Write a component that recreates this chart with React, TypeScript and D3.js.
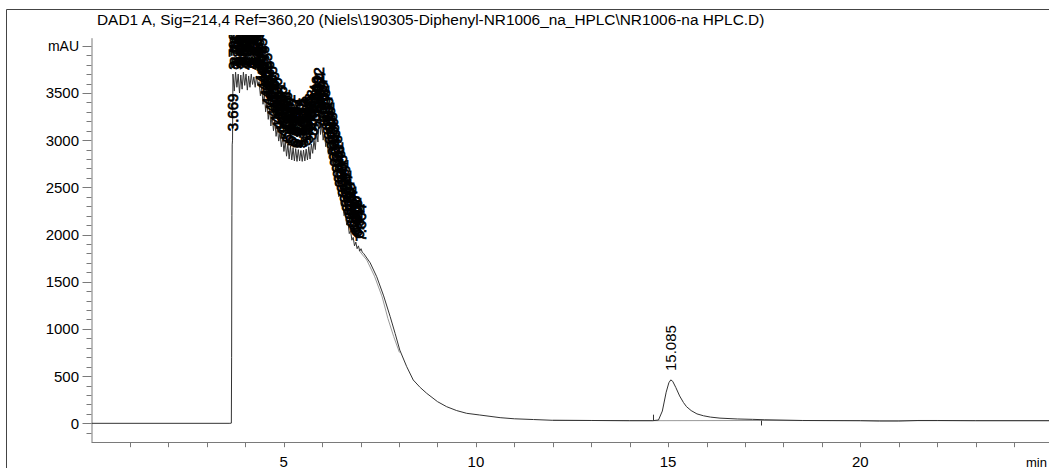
import React from "react";
import * as d3 from "d3";

const TITLE = "DAD1 A, Sig=214,4 Ref=360,20 (Niels\\190305-Diphenyl-NR1006_na_HPLC\\NR1006-na HPLC.D)";

const yMajorTicks = [0, 500, 1000, 1500, 2000, 2500, 3000, 3500];
const xMajorTicks = [5, 10, 15, 20];

// leading part of the trace (min, mAU)
const headTimes = [0, 3.6, 3.638, 3.645, 3.652, 3.66, 3.669];
const headValues = [0, 0, 2, 700, 2200, 2950, 3000];

// saturated / noisy part sampled every noiseStep min from noiseStart
const noiseStart = 3.68;
const noiseStep = 0.034;
const noiseValues = [
  3700, 3520, 3720, 3560, 3700, 3500, 3690, 3540, 3720, 3580,
  3700, 3530, 3680, 3560, 3700, 3590, 3670, 3560, 3680, 3580,
  3620, 3470, 3560, 3380, 3500, 3300, 3420, 3220, 3340, 3150,
  3260, 3100, 3210, 3040, 3140, 2990, 3080, 2930, 3030, 2880,
  2990, 2830, 2960, 2800, 2940, 2790, 2920, 2780, 2910, 2775,
  2900, 2780, 2890, 2775, 2895, 2780, 2905, 2790, 2930, 2800,
  2960, 2860, 3000, 2900, 3100, 2980, 3270, 3060, 3170, 3000,
  3080, 2930, 3010, 2850, 2910, 2750, 2800, 2650, 2680, 2520,
  2560, 2400, 2430, 2300, 2340, 2200, 2240, 2100, 2130, 2010,
  2040, 1940, 1970, 1880, 1920, 1850, 1880, 1825, 1850, 1810,
];

// tail of the trace
const tailTimes = [7.08, 7.25, 7.42, 7.6, 7.77, 7.9, 8.02, 8.2, 8.37, 8.55, 8.72, 9.0, 9.24, 9.5, 9.76, 10.1, 10.63, 11.0, 11.5, 12.0, 13.0, 14.0, 14.6, 14.75, 14.85, 14.95, 15.02, 15.07, 15.12, 15.2, 15.3, 15.4, 15.48, 15.6, 15.75, 15.92, 16.1, 16.35, 16.8, 17.2, 17.5, 18.5, 20.0, 20.5, 21.0, 21.5, 22.0, 23.0, 25.0];
const tailValues = [1800, 1700, 1553, 1350, 1130, 950, 776, 600, 459, 380, 318, 230, 176, 135, 106, 88, 60, 48, 40, 32, 30, 28, 28, 35, 130, 330, 430, 460, 445, 380, 290, 220, 176, 135, 100, 80, 66, 55, 46, 42, 38, 30, 28, 24, 24, 30, 30, 28, 28];

// integration baselines (grey)
const base1Times = [7.0, 7.2, 7.4, 7.6, 7.75, 7.9, 8.05];
const base1Values = [1830, 1730, 1560, 1340, 1110, 920, 750];
const base2Times = [12.0, 13.0, 14.0, 14.62, 17.43, 20.0, 25.0];
const base2Values = [32, 30, 28, 28, 30, 28, 28];

// peak labels: retention time and apex height
const peakTimes = [
  3.669, 3.7, 3.731, 3.76, 3.793, 3.822, 3.856, 3.887, 3.918, 3.95, 3.983, 4.014, 4.046, 4.079,
  4.11, 4.143, 4.176, 4.207, 4.24, 4.272, 4.305, 4.338, 4.369, 4.402, 4.435, 4.467, 4.499, 4.532,
  4.565, 4.597, 4.63, 4.662, 4.695, 4.728, 4.76, 4.793, 4.826, 4.858, 4.891, 4.923, 4.956, 4.989,
  5.021, 5.054, 5.086, 5.119, 5.152, 5.184, 5.217, 5.249, 5.282, 5.315, 5.347, 5.38, 5.412, 5.445,
  5.478, 5.51, 5.543, 5.575, 5.608, 5.641, 5.673, 5.706, 5.738, 5.771, 5.804, 5.836, 5.869, 5.901,
  5.922, 5.954, 5.987, 6.019, 6.052, 6.085, 6.117, 6.15, 6.182, 6.215, 6.248, 6.28, 6.313, 6.345,
  6.378, 6.411, 6.443, 6.476, 6.508, 6.541, 6.589, 6.621, 6.654, 6.687, 6.719, 6.752, 6.784, 6.817,
  6.85, 6.882, 6.915, 6.947, 7.004, 15.085,
];
const peakHeights = [
  3000, 3650, 3700, 3660, 3700, 3650, 3700, 3670, 3700, 3660, 3700, 3650, 3700, 3670,
  3700, 3660, 3700, 3650, 3690, 3660, 3680, 3640, 3670, 3510, 3590, 3430, 3510, 3350,
  3430, 3270, 3350, 3200, 3290, 3140, 3230, 3080, 3170, 3020, 3120, 2980, 3080, 2940,
  3045, 2910, 3015, 2880, 2990, 2860, 2970, 2840, 2955, 2830, 2945, 2820, 2940, 2820,
  2945, 2830, 2955, 2845, 2975, 2870, 3005, 2900, 3045, 2950, 3100, 3020, 3190, 3200,
  3280, 3230, 3180, 3130, 3090, 3050, 3010, 2960, 2910, 2860, 2800, 2740, 2680, 2620,
  2560, 2500, 2450, 2400, 2350, 2300, 2240, 2190, 2140, 2100, 2060, 2020, 1980, 1950,
  1920, 1900, 1880, 1860, 1830, 459,
];

const W = 1049;
const H = 468;
const FONT = "'Liberation Sans', Arial, sans-serif";

export default function App() {
  const x = d3.scaleLinear().domain([0, 25]).range([91.5, 91.5 + 25 * 38.44]);
  const y = d3.scaleLinear().domain([-200, 4080]).range([442.2, 38.2]);

  const pts: [number, number][] = [];
  headTimes.forEach((t, i) => pts.push([t, headValues[i]]));
  noiseValues.forEach((v, i) => pts.push([noiseStart + i * noiseStep, v]));
  tailTimes.forEach((t, i) => pts.push([t, tailValues[i]]));

  const line = d3
    .line<[number, number]>()
    .x((d) => x(d[0]))
    .y((d) => y(d[1]));

  const b1 = base1Times.map((t, i) => [t, base1Values[i]] as [number, number]);
  const b2 = base2Times.map((t, i) => [t, base2Values[i]] as [number, number]);

  const minorY = d3.range(-100, 4001, 100).filter((v) => v % 500 !== 0);
  const minorX = d3.range(1, 25).filter((v) => v % 5 !== 0);
  const axisColor = "#7a7a7a";
  const x0 = x(0);
  const yAxisBottom = y(-200);

  return (
    <div style={{ position: "fixed", left: 0, top: 0 }}>
      <svg width={W} height={H} style={{ display: "block", background: "#fff" }}>
        <defs>
          <clipPath id="plotclip">
            <rect x={x0} y={35} width={W - x0} height={yAxisBottom - 35} />
          </clipPath>
        </defs>
        {/* outer frame */}
        <line x1={6.5} y1={9.5} x2={W} y2={9.5} stroke="#444" strokeWidth={1} />
        <line x1={6.5} y1={9.5} x2={6.5} y2={H} stroke="#444" strokeWidth={1} />
        <text x={97} y={25} fontFamily={FONT} fontSize={15.4} fill="#000">
          {TITLE}
        </text>

        {/* y axis */}
        <line x1={x0 + 0.5} y1={y(4080)} x2={x0 + 0.5} y2={yAxisBottom} stroke={axisColor} />
        {minorY.map((v) => (
          <line key={"my" + v} x1={x0 - 5} x2={x0} y1={Math.round(y(v)) + 0.5} y2={Math.round(y(v)) + 0.5} stroke={axisColor} />
        ))}
        {[...yMajorTicks, 4000].map((v) => (
          <line key={"My" + v} x1={x0 - 9} x2={x0} y1={Math.round(y(v)) + 0.5} y2={Math.round(y(v)) + 0.5} stroke={axisColor} />
        ))}
        {yMajorTicks.map((v) => (
          <text key={"ly" + v} x={79} y={y(v) + 5.5} textAnchor="end" fontFamily={FONT} fontSize={15} fill="#000">
            {v}
          </text>
        ))}
        <text x={79} y={y(4000) + 5} textAnchor="end" fontFamily={FONT} fontSize={14} fill="#000">
          mAU
        </text>

        {/* x axis */}
        <line x1={x0} y1={Math.round(yAxisBottom) + 0.5} x2={W} y2={Math.round(yAxisBottom) + 0.5} stroke={axisColor} />
        {[...minorX, ...xMajorTicks].map((v) => (
          <line key={"tx" + v} x1={Math.round(x(v)) + 0.5} x2={Math.round(x(v)) + 0.5} y1={yAxisBottom} y2={yAxisBottom + 5} stroke={axisColor} />
        ))}
        {xMajorTicks.map((v) => (
          <text key={"lx" + v} x={x(v)} y={466.5} textAnchor="middle" fontFamily={FONT} fontSize={15} fill="#000">
            {v}
          </text>
        ))}
        <text x={1026} y={466.5} fontFamily={FONT} fontSize={13} fill="#000">
          min
        </text>

        <g clipPath="url(#plotclip)">
          <path d={line(b1) || ""} fill="none" stroke="#999" strokeWidth={1} transform="translate(-1.5,0)" />
          <path d={line(b2) || ""} fill="none" stroke="#999" strokeWidth={1} />
          <path d={line(pts) || ""} fill="none" stroke="#333" strokeWidth={1} />
          <line x1={x(14.62)} x2={x(14.62)} y1={y(28)} y2={y(28) - 6} stroke="#333" />
          <line x1={x(17.43)} x2={x(17.43)} y1={y(30)} y2={y(30) + 5} stroke="#333" />
          {peakTimes.map((t, i) => {
            const px = x(t) + 5;
            const py = y(peakHeights[i]) - 9;
            const isMain = t > 10;
            return (
              <text
                key={"pk" + i}
                transform={`translate(${px},${py}) rotate(-90)`}
                fontFamily={FONT}
                fontSize={15}
                fill="#000"
                stroke={isMain ? "none" : "#000"}
                strokeWidth={0.7}
              >
                {t.toFixed(3)}
              </text>
            );
          })}
        </g>
      </svg>
    </div>
  );
}
